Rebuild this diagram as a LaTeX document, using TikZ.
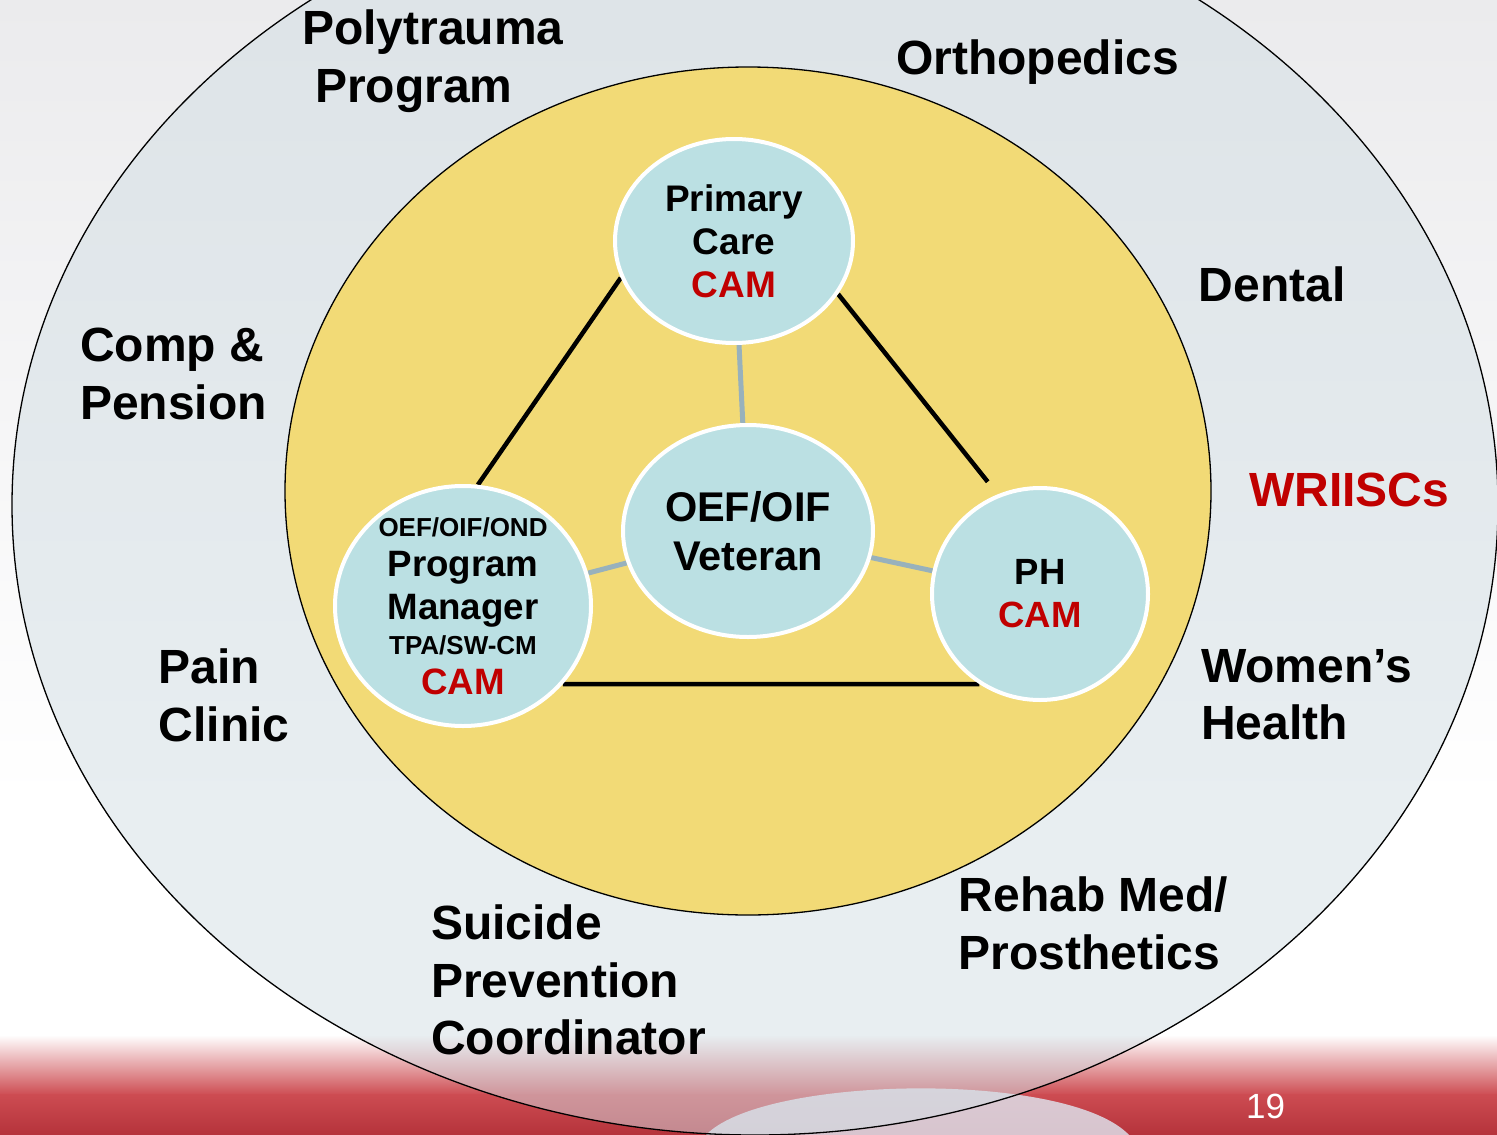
\documentclass[tikz,border=0pt]{standalone}
\usepackage{fontspec}
\setmainfont{Liberation Sans}
\usetikzlibrary{shapes.geometric}
\pgfdeclarelayer{bg}
\pgfdeclarelayer{mid}
\pgfsetlayers{bg,mid,main}

\definecolor{bgtop}{HTML}{EBEBED}
\definecolor{ringfill}{HTML}{D2DEE4}
\definecolor{coreyellow}{HTML}{F2DA76}
\definecolor{bubblefill}{HTML}{BBE0E3}
\definecolor{spokeblue}{HTML}{98B1BC}
\definecolor{camred}{HTML}{C00000}
\definecolor{flagred}{HTML}{CD4C52}
\definecolor{flagdark}{HTML}{B5333B}
\definecolor{stripe}{HTML}{DEDFE9}

\begin{document}
\begin{tikzpicture}[x=1pt,y=-1pt,
  outer/.style={font=\bfseries\fontsize{48}{57.5}\selectfont, align=left,
                anchor=north west, inner sep=0pt},
  bubble/.style={ellipse, draw=white, line width=4pt, fill=bubblefill, inner sep=0pt},
  btext/.style={font=\bfseries\fontsize{37}{43}\selectfont, align=center, inner sep=0pt},
  tie/.style={line width=4.5pt, black},
  spoke/.style={line width=5pt, spokeblue}]

\useasboundingbox (0,0) rectangle (1497,1135);

% backdrop and the two rings
\begin{pgfonlayer}{bg}
  \clip (0,0) rectangle (1497,1135);
  \shade[top color=bgtop, bottom color=white] (0,0) rectangle (1497,800);
  \fill[white] (0,799) rectangle (1497,1040);
  \shade[top color=white, bottom color=flagred] (0,1035) rectangle (1497,1095);
  \shade[top color=flagred, bottom color=flagdark] (0,1094) rectangle (1497,1135);
  \fill[stripe, fill opacity=.85] (705,1136) .. controls (760,1075) and (1070,1070) .. (1130,1136) -- cycle;
  \filldraw[fill=ringfill, fill opacity=.5, draw=black, line width=1.3pt]
    (755,505) ellipse [x radius=743, y radius=630];
  \filldraw[fill=coreyellow, draw=black, line width=1.3pt]
    (748,491) ellipse [x radius=463, y radius=424];
\end{pgfonlayer}

% care team bubbles
\node[bubble, minimum width=238pt, minimum height=204pt,
      label={[btext]center:{Primary\\Care\\\textcolor{camred}{CAM}}}] (pc) at (734,241) {};
\node[bubble, minimum width=250pt, minimum height=212pt,
      label={[btext, font=\bfseries\fontsize{41.5}{49}\selectfont]center:{OEF/OIF\\Veteran}}] (vet) at (748,531) {};
\node[bubble, minimum width=216pt, minimum height=212pt,
      label={[btext, font=\bfseries\fontsize{36.5}{43}\selectfont]center:{PH\\\textcolor{camred}{CAM}}}] (ph) at (1040,594) {};
\node[bubble, minimum width=256pt, minimum height=240pt,
      label={[btext, font=\bfseries\fontsize{36.7}{40}\selectfont]center:{{\fontsize{26}{30}\selectfont OEF/OIF/OND}\\Program\\[3pt]Manager\\[-5pt]{\fontsize{26}{30}\selectfont TPA/SW-CM}\\\textcolor{camred}{CAM}}}] (pm) at (463,606) {};

% links between the bubbles
\begin{pgfonlayer}{mid}
  \draw[spoke] (pc) -- (vet);
  \draw[spoke] (vet) -- (pm);
  \draw[spoke] (vet) -- (ph);
  \draw[tie] (pc.198) -- (pm.83);
  \draw[tie, shorten >=16pt] (pc.333) -- (ph.113);
  \draw[tie] (pm.322) -- (ph.236);
\end{pgfonlayer}

% services around the core
\node[outer] (poly) at (302,10) {Polytrauma\\\hspace*{13pt}Program};
\node[outer] (ortho) at (896,40) {Orthopedics};
\node[outer] (dental) at (1198.5,267) {Dental};
\node[outer] (comp) at (80,328) {Comp \&\\Pension};
\node[outer, text=camred] (wriisc) at (1249,473) {WRIISCs};
\node[outer] (pain) at (158.6,649) {Pain\\Clinic};
\node[outer] (women) at (1201,649) {Women’s\\Health};
\node[outer] (suicide) at (431,905) {Suicide\\Prevention\\Coordinator};
\node[outer] (rehab) at (958.6,877) {Rehab Med/\\Prosthetics};

\node[font=\fontsize{35}{40}\selectfont, text=white, anchor=base west, inner sep=0pt]
  (page) at (1246,1118) {19};
\end{tikzpicture}
\end{document}
